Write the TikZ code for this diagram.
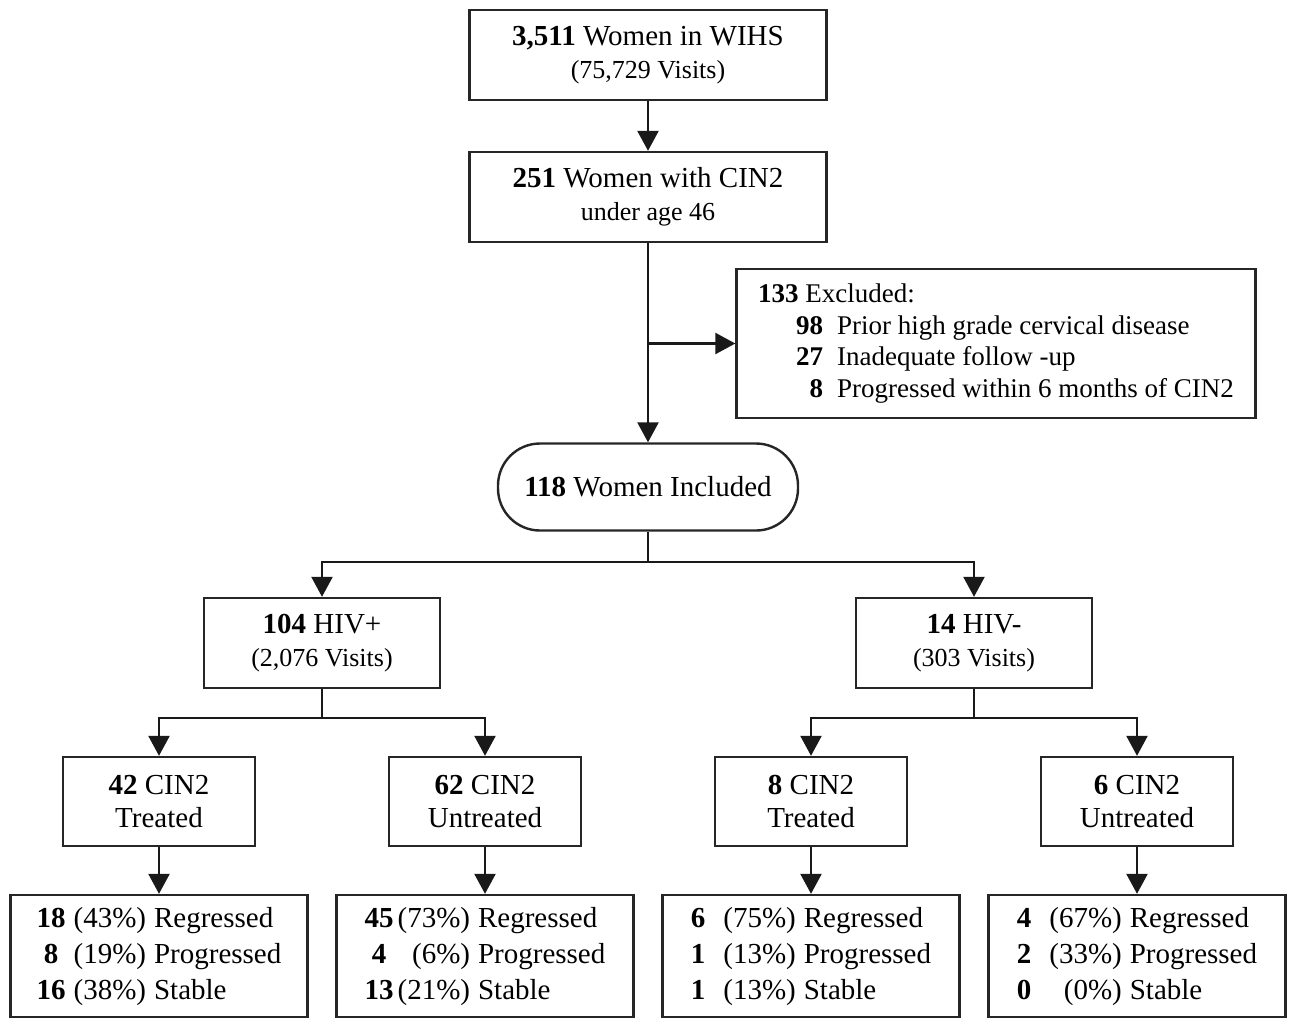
\documentclass[tikz,border=0pt]{standalone}
\usepackage{fontspec}
\setmainfont{Liberation Serif}
\usetikzlibrary{positioning,arrows.meta}
\newcommand\subfont{\fontsize{13}{16.5}\selectfont}

\begin{document}
\begin{tikzpicture}[x=0.5pt,y=-0.5pt,
    every node/.style={font=\fontsize{14.5}{16.5}\selectfont,align=center,inner sep=0pt},
    box/.style={draw=black!85,line width=1.2pt,fill=white},
    bigbox/.style={box,minimum width=178.5pt,minimum height=45pt},
    exbox/.style={box,minimum width=259.5pt,minimum height=74.5pt,
        font=\fontsize{13.5}{15.75}\selectfont},
    inclbox/.style={box,rounded corners=21pt,minimum width=150pt,minimum height=43.5pt},
    hivbox/.style={box,minimum width=118pt,minimum height=45pt},
    cinbox/.style={box,minimum width=96pt,minimum height=44.5pt},
    resbox/.style={box,minimum width=148.5pt,minimum height=61pt,
        font=\fontsize{14.5}{18}\selectfont},
    link/.style={draw=black!90,line width=1.2pt},
    arr/.style={link,-{Triangle[length=10pt,width=10.5pt]}}
    ]
    \useasboundingbox (0,0) rectangle (1289,1019);
    %
    \node[bigbox] (wihs) at (648,55) {\textbf{3,511} Women in WIHS\\{\subfont (75,729 Visits)}};
    \node[bigbox] (cin) at (648,197) {\textbf{251} Women with CIN2\\{\subfont under age 46}};
    \node[exbox] (excl) at (996,343.5) {%
        \begin{tabular}{@{\hspace{19pt}}r@{\hspace{7pt}}l@{}}
            \multicolumn{2}{@{}l}{\textbf{133} Excluded:}\\
            \textbf{98} & Prior high grade cervical disease\\
            \textbf{27} & Inadequate follow -up\\
            \textbf{8}  & Progressed within 6 months of CIN2
        \end{tabular}};
    \node[inclbox] (incl) at (648,487) {\textbf{118} Women Included};
    %
    \node[hivbox] (hivpos) at (322,643) {\textbf{104} HIV+\\{\subfont (2,076 Visits)}};
    \node[hivbox] (hivneg) at (974,643) {\textbf{14} HIV-\\{\subfont (303 Visits)}};
    %
    \node[cinbox] (posT) at (159,801.5) {\textbf{42} CIN2\\Treated};
    \node[cinbox] (posU) at (485,801.5) {\textbf{62} CIN2\\Untreated};
    \node[cinbox] (negT) at (811,801.5) {\textbf{8} CIN2\\Treated};
    \node[cinbox] (negU) at (1137,801.5) {\textbf{6} CIN2\\Untreated};
    %
    \node[resbox] (posTres) at (159,956) {%
        \begin{tabular}{@{}c@{\hspace{4pt}}r@{\hspace{4pt}}l@{}}
            \textbf{18} & (43\%) & Regressed\\
            \textbf{8}  & (19\%) & Progressed\\
            \textbf{16} & (38\%) & Stable
        \end{tabular}};
    \node[resbox] (posUres) at (485,956) {%
        \begin{tabular}{@{}c@{\hspace{2pt}}r@{\hspace{4pt}}l@{}}
            \textbf{45} & (73\%) & Regressed\\
            \textbf{4}  & (6\%)  & Progressed\\
            \textbf{13} & (21\%) & Stable
        \end{tabular}};
    \node[resbox] (negTres) at (811,956) {%
        \begin{tabular}{@{}c@{\hspace{9pt}}r@{\hspace{4pt}}l@{}}
            \textbf{6} & (75\%) & Regressed\\
            \textbf{1} & (13\%) & Progressed\\
            \textbf{1} & (13\%) & Stable
        \end{tabular}};
    \node[resbox] (negUres) at (1137,956) {%
        \begin{tabular}{@{}c@{\hspace{9pt}}r@{\hspace{4pt}}l@{}}
            \textbf{4} & (67\%) & Regressed\\
            \textbf{2} & (33\%) & Progressed\\
            \textbf{0} & (0\%)  & Stable
        \end{tabular}};
    %
    \coordinate (jmain) at (648,562);
    \coordinate (jpos) at (322,718);
    \coordinate (jneg) at (974,718);
    %
    \draw[arr] (wihs) -- (cin);
    \draw[arr] (cin) -- (incl);
    \draw[arr] (cin.south |- excl.west) -- (excl.west);
    \draw[link] (incl) -- (jmain);
    \draw[arr] (jmain) -| (hivpos);
    \draw[arr] (jmain) -| (hivneg);
    \draw[link] (hivpos) -- (jpos);
    \draw[arr] (jpos) -| (posT);
    \draw[arr] (jpos) -| (posU);
    \draw[link] (hivneg) -- (jneg);
    \draw[arr] (jneg) -| (negT);
    \draw[arr] (jneg) -| (negU);
    \draw
    (posT) edge[arr] (posTres)
    (posU) edge[arr] (posUres)
    (negT) edge[arr] (negTres)
    (negU) edge[arr] (negUres);
    %
\end{tikzpicture}
\end{document}
